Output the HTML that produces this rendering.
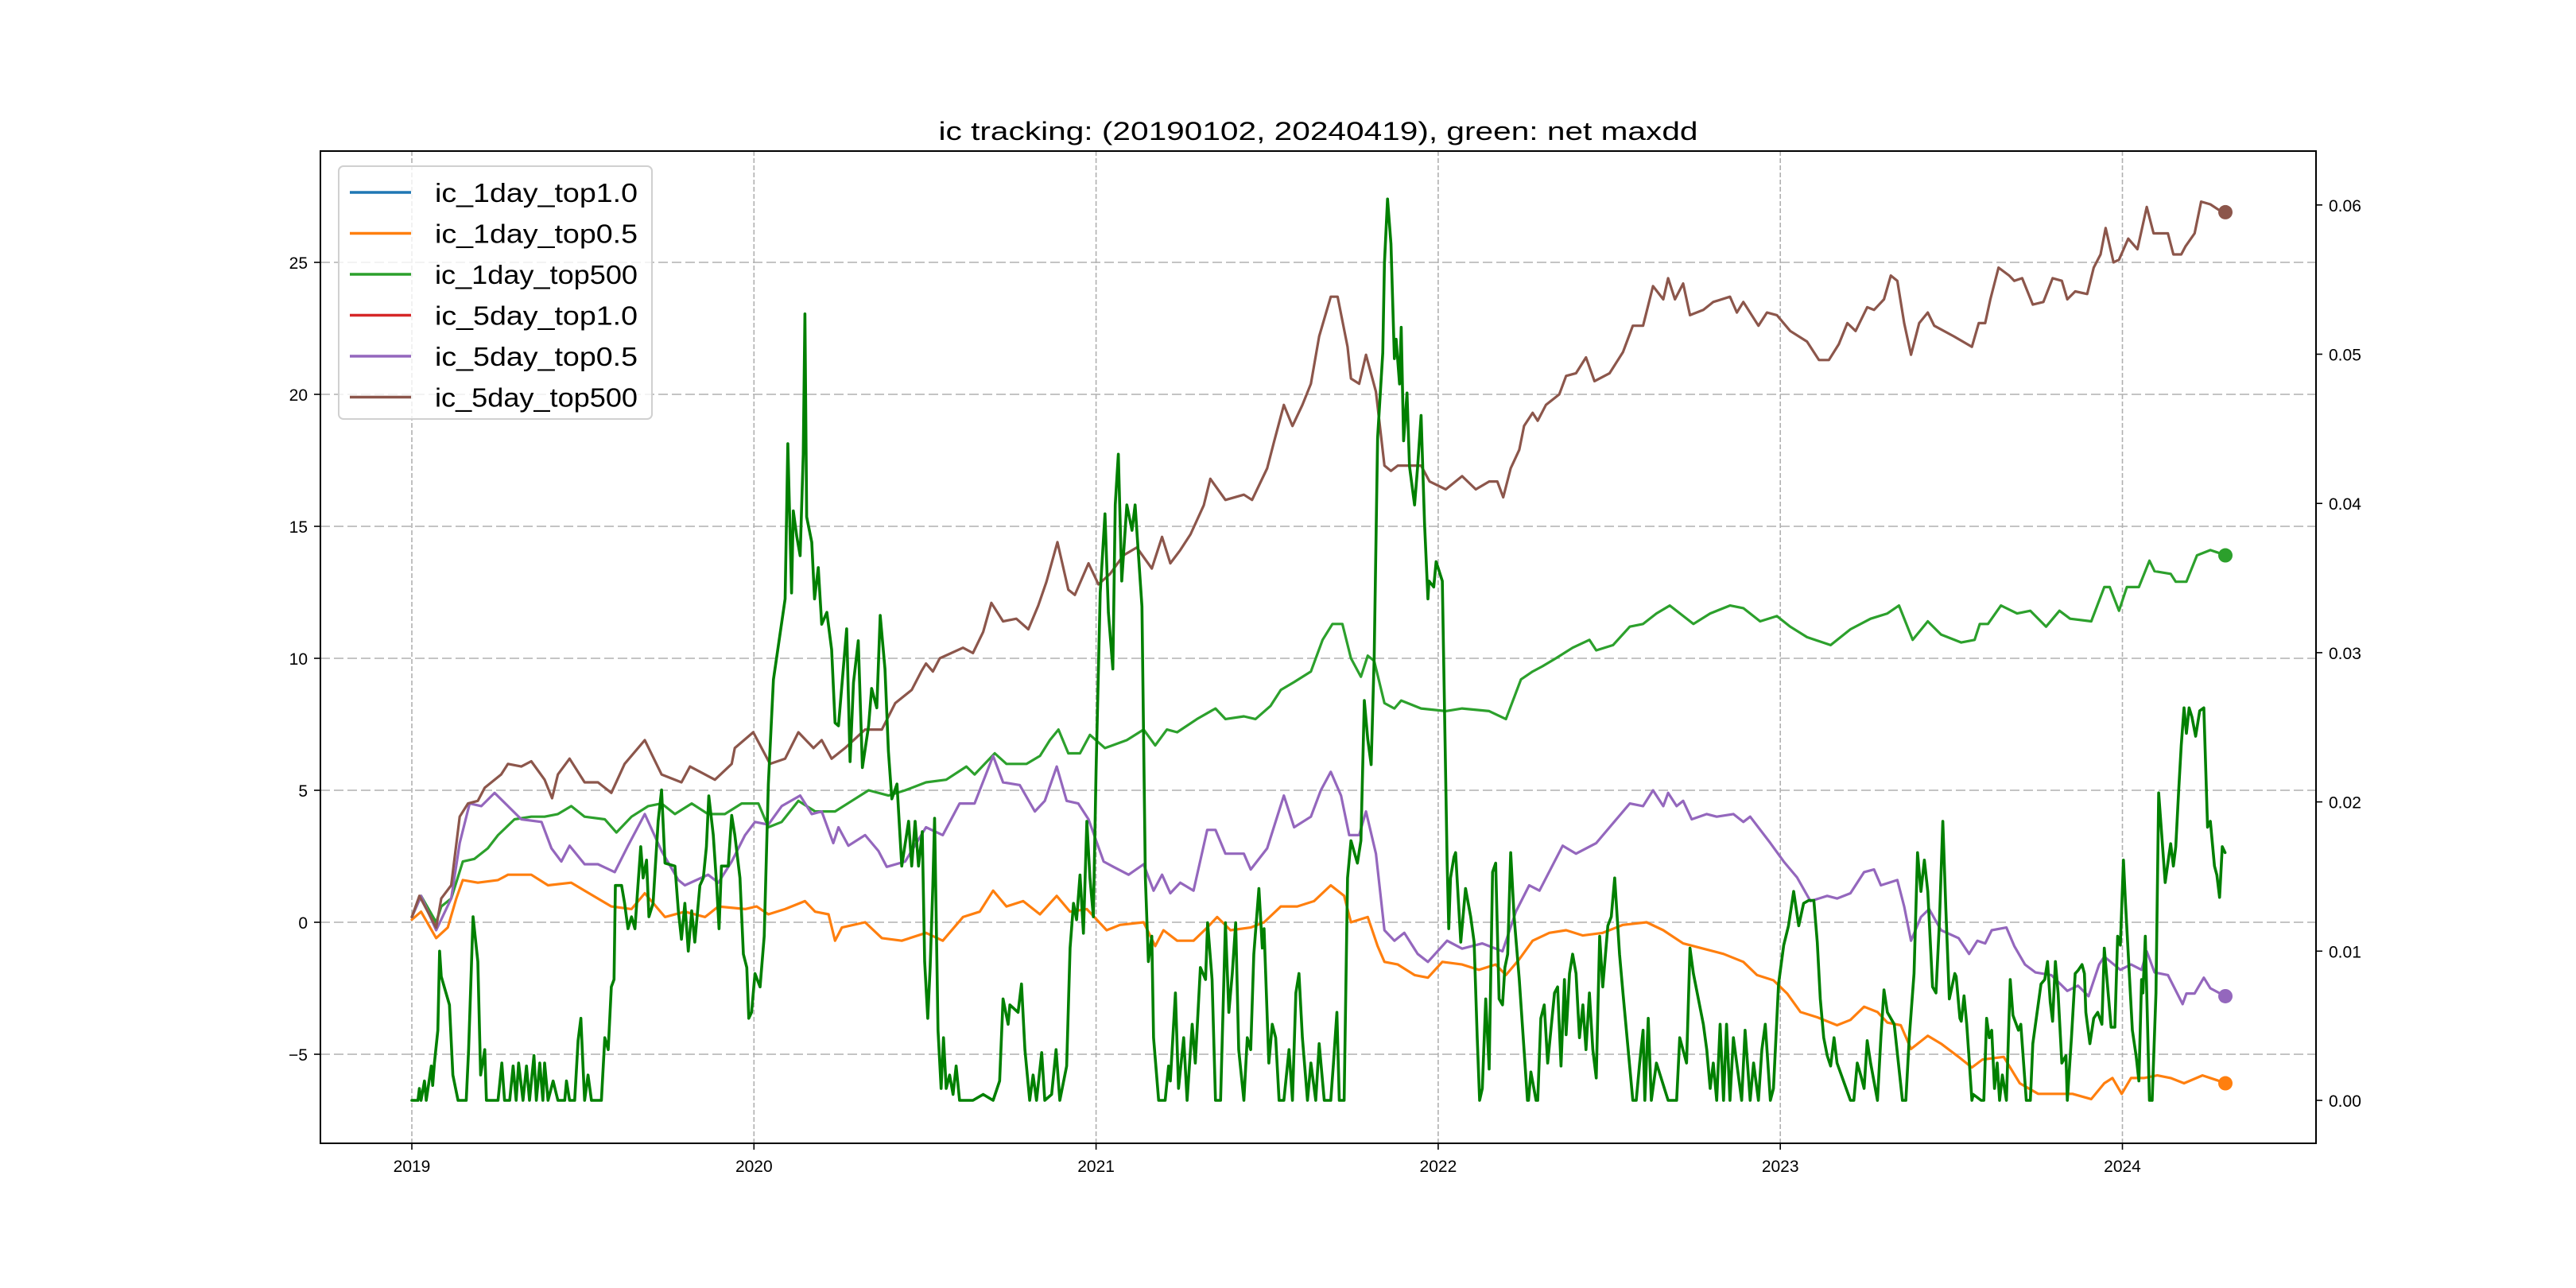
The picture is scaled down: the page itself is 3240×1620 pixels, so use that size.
<!DOCTYPE html>
<html><head><meta charset="utf-8"><style>
html,body{margin:0;padding:0;background:#fff;}
svg{display:block;}
text{font-family:"Liberation Sans","Noto Sans CJK SC",sans-serif;fill:#000;}
</style></head><body>
<svg id="chart" width="3240" height="1620" viewBox="0 0 3240 1620" xmlns="http://www.w3.org/2000/svg">
<rect width="3240" height="1620" fill="#fff"/>
<g id="grid"></g>
<g id="series"></g>
<g id="axes"></g>
<text x="1658" y="176" text-anchor="middle" font-size="32" textLength="955" lengthAdjust="spacingAndGlyphs">ic tracking: (20190102, 20240419), green: net maxdd</text>
<g id="legend"></g>
</svg>
<script>
const xTickYears = [2019, 2020, 2021, 2022, 2023, 2024];
const xTickLabels = ["2019", "2020", "2021", "2022", "2023", "2024"];
const yLeftTicks = [-5, 0, 5, 10, 15, 20, 25];
const yLeftLabels = ["\u22125", "0", "5", "10", "15", "20", "25"];
const yRightTicks = [0, 10, 20, 30, 40, 50, 60];
const yRightLabels = ["0.00", "0.01", "0.02", "0.03", "0.04", "0.05", "0.06"];
const legendLabels = ["ic_1day_top1.0", "ic_1day_top0.5", "ic_1day_top500", "ic_5day_top1.0", "ic_5day_top0.5", "ic_5day_top500"];
const legendColors = ["#1f77b4", "#ff7f0e", "#2ca02c", "#d62728", "#9467bd", "#8c564b"];

const brownDates = [2019.000,2019.022,2019.071,2019.086,2019.115,2019.140,2019.164,2019.193,2019.213,2019.261,2019.281,2019.320,2019.349,2019.388,2019.410,2019.427,2019.461,2019.505,2019.544,2019.583,2019.622,2019.681,2019.730,2019.788,2019.813,2019.886,2019.935,2019.944,2019.998,2020.047,2020.091,2020.130,2020.174,2020.198,2020.227,2020.266,2020.325,2020.374,2020.413,2020.461,2020.489,2020.503,2020.523,2020.543,2020.611,2020.640,2020.670,2020.694,2020.728,2020.767,2020.802,2020.831,2020.855,2020.887,2020.919,2020.938,2020.978,2021.007,2021.041,2021.080,2021.119,2021.163,2021.193,2021.217,2021.246,2021.276,2021.315,2021.334,2021.378,2021.432,2021.456,2021.500,2021.520,2021.549,2021.574,2021.603,2021.628,2021.652,2021.686,2021.706,2021.735,2021.745,2021.769,2021.789,2021.818,2021.843,2021.862,2021.882,2021.911,2021.950,2021.975,2022.022,2022.070,2022.110,2022.149,2022.173,2022.190,2022.212,2022.237,2022.251,2022.276,2022.291,2022.315,2022.354,2022.374,2022.403,2022.432,2022.457,2022.501,2022.540,2022.569,2022.599,2022.628,2022.658,2022.672,2022.692,2022.716,2022.736,2022.775,2022.804,2022.853,2022.873,2022.892,2022.936,2022.961,2022.990,2023.029,2023.078,2023.113,2023.142,2023.171,2023.196,2023.220,2023.254,2023.274,2023.303,2023.323,2023.342,2023.362,2023.382,2023.406,2023.431,2023.450,2023.507,2023.560,2023.580,2023.599,2023.614,2023.638,2023.669,2023.684,2023.707,2023.738,2023.769,2023.796,2023.823,2023.839,2023.862,2023.897,2023.916,2023.936,2023.951,2023.974,2023.990,2024.017,2024.044,2024.071,2024.091,2024.133,2024.149,2024.172,2024.184,2024.211,2024.230,2024.257,2024.280,2024.301];
const brownVals = [0.2,1.0,-0.2,0.9,1.4,4.0,4.5,4.6,5.1,5.6,6.0,5.9,6.1,5.4,4.7,5.6,6.2,5.3,5.3,4.9,6.0,6.9,5.6,5.3,5.9,5.4,6.0,6.6,7.2,6.0,6.2,7.2,6.6,6.9,6.2,6.6,7.3,7.3,8.3,8.8,9.5,9.8,9.5,10.0,10.4,10.2,11.0,12.1,11.4,11.5,11.1,12.0,12.9,14.4,12.6,12.4,13.6,12.8,13.2,13.9,14.2,13.4,14.6,13.6,14.1,14.7,15.8,16.8,16.0,16.2,16.0,17.2,18.2,19.6,18.8,19.6,20.4,22.2,23.7,23.7,21.8,20.6,20.4,21.5,20.1,17.3,17.1,17.3,17.3,17.3,16.7,16.4,16.9,16.4,16.7,16.7,16.1,17.2,17.9,18.8,19.3,19.0,19.6,20.0,20.7,20.8,21.4,20.5,20.8,21.6,22.6,22.6,24.1,23.6,24.4,23.6,24.2,23.0,23.2,23.5,23.7,23.1,23.5,22.6,23.1,23.0,22.4,22.0,21.3,21.3,21.9,22.7,22.4,23.3,23.2,23.6,24.5,24.3,22.7,21.5,22.7,23.1,22.6,22.2,21.8,22.7,22.7,23.6,24.8,24.5,24.3,24.4,23.4,23.5,24.4,24.3,23.6,23.9,23.8,24.8,25.3,26.3,25.0,25.1,25.9,25.5,27.1,26.1,26.1,25.3,25.3,25.6,26.1,27.3,27.2,27.0,26.9];

const greenDates = [2019.000,2019.027,2019.071,2019.086,2019.115,2019.149,2019.183,2019.222,2019.252,2019.300,2019.349,2019.388,2019.427,2019.466,2019.505,2019.564,2019.598,2019.642,2019.691,2019.730,2019.769,2019.818,2019.866,2019.915,2019.964,2020.013,2020.042,2020.081,2020.130,2020.179,2020.237,2020.286,2020.335,2020.393,2020.442,2020.503,2020.562,2020.621,2020.645,2020.704,2020.738,2020.797,2020.836,2020.865,2020.890,2020.919,2020.953,2020.982,2021.026,2021.090,2021.139,2021.173,2021.207,2021.237,2021.295,2021.349,2021.378,2021.432,2021.466,2021.510,2021.540,2021.579,2021.628,2021.662,2021.691,2021.720,2021.745,2021.774,2021.794,2021.813,2021.843,2021.872,2021.892,2021.950,2022.022,2022.070,2022.149,2022.198,2022.242,2022.276,2022.305,2022.344,2022.393,2022.442,2022.462,2022.511,2022.560,2022.599,2022.638,2022.677,2022.746,2022.795,2022.853,2022.892,2022.941,2022.990,2023.029,2023.078,2023.147,2023.205,2023.264,2023.313,2023.347,2023.387,2023.431,2023.470,2023.529,2023.568,2023.583,2023.607,2023.645,2023.692,2023.731,2023.777,2023.816,2023.847,2023.909,2023.947,2023.963,2023.990,2024.013,2024.048,2024.079,2024.094,2024.141,2024.156,2024.187,2024.218,2024.257,2024.280,2024.301];
const greenVals = [0.2,1.0,0.0,0.6,0.9,2.3,2.4,2.8,3.3,3.9,4.0,4.0,4.1,4.4,4.0,3.9,3.4,4.0,4.4,4.5,4.1,4.5,4.1,4.1,4.5,4.5,3.6,3.8,4.6,4.2,4.2,4.6,5.0,4.8,5.0,5.3,5.4,5.9,5.6,6.4,6.0,6.0,6.3,6.9,7.3,6.4,6.4,7.1,6.6,6.9,7.3,6.7,7.3,7.2,7.7,8.1,7.7,7.8,7.7,8.2,8.8,9.1,9.5,10.7,11.3,11.3,10.0,9.3,10.1,9.9,8.3,8.1,8.4,8.1,8.0,8.1,8.0,7.7,9.2,9.5,9.7,10.0,10.4,10.7,10.3,10.5,11.2,11.3,11.7,12.0,11.3,11.7,12.0,11.9,11.4,11.6,11.2,10.8,10.5,11.1,11.5,11.7,12.0,10.7,11.4,10.9,10.6,10.7,11.3,11.3,12.0,11.7,11.8,11.2,11.8,11.5,11.4,12.7,12.7,11.8,12.7,12.7,13.7,13.3,13.2,12.9,12.9,13.9,14.1,14.0,13.9];

const orangeDates = [2019.000,2019.027,2019.071,2019.105,2019.130,2019.149,2019.193,2019.252,2019.281,2019.349,2019.398,2019.466,2019.505,2019.583,2019.642,2019.681,2019.740,2019.798,2019.857,2019.896,2019.974,2020.008,2020.042,2020.091,2020.149,2020.179,2020.218,2020.237,2020.257,2020.325,2020.374,2020.432,2020.503,2020.552,2020.611,2020.660,2020.699,2020.738,2020.787,2020.836,2020.885,2020.924,2020.973,2021.031,2021.070,2021.139,2021.173,2021.197,2021.237,2021.285,2021.325,2021.354,2021.393,2021.452,2021.491,2021.540,2021.588,2021.637,2021.686,2021.725,2021.745,2021.794,2021.823,2021.843,2021.882,2021.931,2021.970,2022.012,2022.070,2022.119,2022.168,2022.198,2022.237,2022.276,2022.325,2022.374,2022.423,2022.481,2022.540,2022.609,2022.658,2022.716,2022.775,2022.834,2022.892,2022.932,2022.980,2023.020,2023.059,2023.108,2023.166,2023.205,2023.245,2023.284,2023.313,2023.352,2023.382,2023.431,2023.470,2023.521,2023.560,2023.591,2023.653,2023.700,2023.754,2023.808,2023.854,2023.909,2023.947,2023.971,2023.998,2024.025,2024.063,2024.102,2024.141,2024.180,2024.234,2024.280,2024.301];
const orangeVals = [0.1,0.4,-0.6,-0.2,0.9,1.6,1.5,1.6,1.8,1.8,1.4,1.5,1.2,0.6,0.5,1.1,0.2,0.4,0.2,0.6,0.5,0.6,0.3,0.5,0.8,0.4,0.3,-0.7,-0.2,0.0,-0.6,-0.7,-0.4,-0.7,0.2,0.4,1.2,0.6,0.8,0.3,1.0,0.4,0.5,-0.3,-0.1,0.0,-0.9,-0.3,-0.7,-0.7,-0.2,0.2,-0.3,-0.2,0.0,0.6,0.6,0.8,1.4,1.0,0.0,0.2,-0.9,-1.5,-1.6,-2.0,-2.1,-1.5,-1.6,-1.8,-1.6,-2.0,-1.4,-0.7,-0.4,-0.3,-0.5,-0.4,-0.1,0.0,-0.3,-0.8,-1.0,-1.2,-1.5,-2.0,-2.2,-2.7,-3.4,-3.6,-3.9,-3.7,-3.2,-3.4,-3.8,-3.9,-4.8,-4.3,-4.6,-5.1,-5.5,-5.2,-5.1,-6.1,-6.5,-6.5,-6.5,-6.7,-6.1,-5.9,-6.5,-5.9,-5.9,-5.8,-5.9,-6.1,-5.8,-6.0,-6.1];

const purpleDates = [2019.000,2019.027,2019.071,2019.115,2019.140,2019.169,2019.203,2019.242,2019.281,2019.320,2019.379,2019.408,2019.437,2019.461,2019.505,2019.544,2019.593,2019.632,2019.681,2019.730,2019.779,2019.798,2019.866,2019.896,2019.935,2019.974,2020.003,2020.042,2020.081,2020.135,2020.169,2020.198,2020.232,2020.247,2020.276,2020.325,2020.364,2020.388,2020.442,2020.503,2020.552,2020.601,2020.645,2020.699,2020.728,2020.777,2020.821,2020.850,2020.885,2020.914,2020.948,2020.978,2021.022,2021.051,2021.095,2021.139,2021.168,2021.193,2021.217,2021.246,2021.285,2021.325,2021.349,2021.378,2021.432,2021.452,2021.500,2021.549,2021.579,2021.628,2021.657,2021.686,2021.716,2021.740,2021.769,2021.789,2021.818,2021.843,2021.872,2021.901,2021.940,2021.970,2022.026,2022.070,2022.129,2022.188,2022.227,2022.266,2022.296,2022.364,2022.403,2022.462,2022.501,2022.560,2022.599,2022.628,2022.658,2022.672,2022.697,2022.716,2022.741,2022.785,2022.814,2022.863,2022.892,2022.912,2022.971,2023.010,2023.049,2023.088,2023.137,2023.166,2023.205,2023.245,2023.274,2023.294,2023.342,2023.362,2023.382,2023.411,2023.435,2023.470,2023.521,2023.552,2023.576,2023.599,2023.618,2023.661,2023.684,2023.715,2023.746,2023.792,2023.839,2023.870,2023.901,2023.932,2023.947,2023.994,2024.025,2024.056,2024.071,2024.094,2024.133,2024.176,2024.187,2024.211,2024.238,2024.257,2024.301];
const purpleVals = [0.2,1.0,-0.3,0.9,3.0,4.5,4.4,4.9,4.4,3.9,3.8,2.8,2.3,2.9,2.2,2.2,1.9,2.9,4.1,2.7,1.6,1.4,1.8,1.5,2.3,3.3,3.8,3.7,4.4,4.8,4.1,4.2,3.0,3.6,2.9,3.3,2.7,2.1,2.3,3.6,3.3,4.5,4.5,6.3,5.3,5.2,4.2,4.6,5.9,4.6,4.5,3.9,2.3,2.1,1.8,2.2,1.2,1.8,1.1,1.5,1.2,3.5,3.5,2.6,2.6,2.0,2.8,4.8,3.6,4.0,5.0,5.7,4.8,3.3,3.3,4.2,2.6,-0.3,-0.7,-0.4,-1.2,-1.5,-0.7,-1.0,-0.8,-1.1,0.4,1.4,1.2,2.9,2.6,3.0,3.6,4.5,4.4,5.0,4.4,4.9,4.4,4.6,3.9,4.1,4.0,4.1,3.8,4.0,3.0,2.3,1.7,0.8,1.0,0.9,1.1,1.9,2.0,1.4,1.6,0.6,-0.7,0.2,0.5,-0.3,-0.6,-1.2,-0.7,-0.8,-0.3,-0.2,-0.9,-1.6,-1.9,-2.0,-2.6,-2.4,-2.8,-1.6,-1.3,-1.8,-1.6,-1.8,-1.1,-1.9,-2.0,-3.1,-2.7,-2.7,-2.1,-2.5,-2.8];

const maxddDates = [2019.000,2019.018,2019.022,2019.027,2019.037,2019.042,2019.057,2019.061,2019.066,2019.076,2019.081,2019.086,2019.110,2019.120,2019.135,2019.159,2019.166,2019.179,2019.193,2019.201,2019.213,2019.218,2019.252,2019.263,2019.271,2019.286,2019.296,2019.305,2019.312,2019.325,2019.335,2019.344,2019.357,2019.364,2019.374,2019.383,2019.388,2019.398,2019.413,2019.427,2019.447,2019.452,2019.461,2019.476,2019.486,2019.494,2019.500,2019.505,2019.515,2019.525,2019.554,2019.564,2019.574,2019.583,2019.591,2019.595,2019.613,2019.622,2019.632,2019.642,2019.652,2019.661,2019.669,2019.676,2019.686,2019.693,2019.705,2019.720,2019.730,2019.740,2019.769,2019.779,2019.788,2019.798,2019.808,2019.818,2019.827,2019.842,2019.852,2019.861,2019.868,2019.881,2019.891,2019.898,2019.905,2019.925,2019.935,2019.944,2019.959,2019.969,2019.979,2019.985,2019.993,2020.003,2020.018,2020.030,2020.042,2020.057,2020.091,2020.099,2020.110,2020.115,2020.125,2020.135,2020.144,2020.149,2020.154,2020.169,2020.177,2020.188,2020.198,2020.213,2020.227,2020.237,2020.247,2020.271,2020.281,2020.291,2020.305,2020.317,2020.335,2020.344,2020.359,2020.369,2020.383,2020.393,2020.403,2020.418,2020.432,2020.452,2020.461,2020.471,2020.481,2020.492,2020.499,2020.508,2020.515,2020.523,2020.528,2020.538,2020.547,2020.554,2020.562,2020.572,2020.582,2020.591,2020.601,2020.640,2020.670,2020.699,2020.718,2020.728,2020.743,2020.748,2020.772,2020.782,2020.792,2020.806,2020.816,2020.826,2020.841,2020.850,2020.870,2020.883,2020.894,2020.914,2020.924,2020.934,2020.943,2020.953,2020.963,2020.973,2020.982,2020.992,2021.000,2021.012,2021.026,2021.036,2021.049,2021.056,2021.065,2021.075,2021.090,2021.105,2021.114,2021.134,2021.144,2021.153,2021.163,2021.168,2021.183,2021.202,2021.212,2021.217,2021.232,2021.241,2021.256,2021.266,2021.281,2021.290,2021.305,2021.320,2021.326,2021.339,2021.349,2021.364,2021.378,2021.388,2021.398,2021.408,2021.417,2021.432,2021.442,2021.452,2021.461,2021.476,2021.486,2021.491,2021.505,2021.515,2021.525,2021.535,2021.549,2021.564,2021.574,2021.584,2021.593,2021.603,2021.618,2021.628,2021.642,2021.652,2021.667,2021.686,2021.694,2021.704,2021.711,2021.725,2021.735,2021.745,2021.764,2021.774,2021.784,2021.794,2021.804,2021.813,2021.823,2021.838,2021.843,2021.852,2021.862,2021.872,2021.877,2021.887,2021.892,2021.899,2021.909,2021.916,2021.931,2021.940,2021.950,2021.960,2021.970,2021.973,2021.987,2021.994,2022.012,2022.026,2022.031,2022.036,2022.046,2022.051,2022.066,2022.080,2022.095,2022.105,2022.114,2022.121,2022.129,2022.139,2022.149,2022.159,2022.168,2022.178,2022.188,2022.195,2022.203,2022.212,2022.222,2022.237,2022.261,2022.264,2022.271,2022.286,2022.291,2022.300,2022.310,2022.320,2022.340,2022.349,2022.359,2022.369,2022.374,2022.384,2022.393,2022.403,2022.413,2022.423,2022.432,2022.442,2022.452,2022.462,2022.472,2022.481,2022.496,2022.506,2022.516,2022.530,2022.540,2022.569,2022.579,2022.589,2022.599,2022.604,2022.614,2022.623,2022.638,2022.672,2022.697,2022.706,2022.726,2022.736,2022.746,2022.775,2022.785,2022.795,2022.804,2022.814,2022.824,2022.834,2022.843,2022.853,2022.863,2022.887,2022.897,2022.912,2022.922,2022.936,2022.946,2022.956,2022.971,2022.980,2022.995,2023.010,2023.024,2023.039,2023.054,2023.068,2023.083,2023.098,2023.108,2023.117,2023.127,2023.137,2023.147,2023.157,2023.166,2023.205,2023.215,2023.225,2023.235,2023.245,2023.254,2023.264,2023.284,2023.294,2023.303,2023.313,2023.333,2023.357,2023.367,2023.377,2023.391,2023.401,2023.411,2023.421,2023.431,2023.445,2023.455,2023.465,2023.475,2023.484,2023.494,2023.510,2023.514,2023.525,2023.529,2023.537,2023.545,2023.560,2023.564,2023.587,2023.595,2023.603,2023.611,2023.618,2023.626,2023.634,2023.641,2023.649,2023.661,2023.672,2023.680,2023.696,2023.703,2023.719,2023.731,2023.738,2023.762,2023.773,2023.781,2023.789,2023.796,2023.804,2023.812,2023.823,2023.835,2023.839,2023.851,2023.862,2023.870,2023.882,2023.889,2023.893,2023.905,2023.916,2023.928,2023.940,2023.947,2023.955,2023.967,2023.978,2023.986,2023.994,2024.003,2024.009,2024.029,2024.040,2024.048,2024.056,2024.060,2024.067,2024.079,2024.087,2024.098,2024.106,2024.125,2024.137,2024.141,2024.149,2024.156,2024.164,2024.172,2024.180,2024.187,2024.195,2024.203,2024.214,2024.226,2024.238,2024.249,2024.257,2024.269,2024.276,2024.284,2024.292,2024.300];
const maxddPermille = [0,0,0.8,0,1.3,0,2.3,1.0,2.5,4.7,10.0,8.3,6.4,1.7,0,0,3.4,12.3,9.3,1.7,3.4,0,0,2.5,0,0,2.3,0,2.5,0,2.3,0,3.0,0,2.5,0,2.5,0,1.3,0,0,1.3,0,0,4.0,5.5,2.5,0,1.7,0,0,4.2,3.4,7.6,8.1,14.4,14.4,13.2,11.5,12.3,11.5,14.4,17.0,14.9,16.1,12.3,13.2,18.7,20.8,15.9,15.7,12.7,10.8,13.2,10.0,12.7,10.6,14.4,14.9,17.0,20.4,17.8,14.4,11.5,15.7,15.7,19.1,17.8,14.9,9.8,8.9,5.5,5.9,8.5,7.6,11.0,21.2,28.2,33.6,44.0,34.0,39.5,37.8,36.5,43.3,52.7,39.1,37.4,33.6,35.7,31.9,32.7,30.2,25.3,25.1,31.6,22.7,28.0,30.8,22.3,25.1,27.6,26.3,32.5,28.9,23.4,20.2,21.2,15.7,18.7,15.7,18.7,15.7,18.0,9.3,5.5,8.9,14.4,18.9,4.7,0.8,4.2,0.8,1.7,0.4,2.3,0,0,0.4,0,1.3,6.8,5.1,6.4,5.9,7.8,3.4,0,1.7,0,3.2,0,0.4,3.4,0,2.3,10.2,13.2,12.1,15.1,11.2,18.7,14.9,12.3,22.1,34.0,39.3,32.7,28.9,39.9,43.3,34.8,39.9,38.2,39.9,33.1,14.9,9.3,11.0,4.2,0,0,2.3,1.3,7.2,0.8,4.2,0,5.1,2.5,8.9,8.1,11.9,8.1,0,0,11.9,5.9,8.5,11.9,3.4,0,4.2,3.4,9.8,14.2,10.2,11.5,2.5,5.1,4.2,0,0,3.4,0,7.2,8.5,4.2,0,2.5,0,3.8,0,0,2.5,5.9,0,0,14.9,17.4,15.9,17.4,26.8,24.2,22.5,29.7,44.4,50.1,56.1,60.4,57.4,49.7,51.0,48.0,51.8,44.2,47.4,42.5,39.9,42.5,45.9,38.7,33.6,34.8,34.4,36.1,34.8,16.1,11.5,14.9,16.3,16.6,10.6,14.2,12.3,10.6,4.2,0,0.8,6.8,2.1,15.3,15.9,6.8,6.4,8.9,9.8,16.6,12.3,8.1,0,0,1.9,0,0,5.5,6.4,2.5,7.2,7.6,2.3,8.1,4.4,8.5,9.8,8.5,4.2,6.4,3.4,7.2,3.4,1.5,11.0,7.6,11.7,12.3,14.9,9.8,7.2,0,0,2.5,4.7,0,5.5,0,2.5,0,0,4.2,2.5,10.2,8.5,5.1,3.4,0.8,2.5,0,5.1,0,5.1,0,4.2,0,4.7,0,2.5,0,3.4,5.1,0,0.8,7.8,10.4,11.7,14.0,11.7,13.2,13.4,13.4,10.6,6.8,4.2,3.0,2.3,4.2,2.5,0,0,2.5,1.7,0.8,4.0,2.5,0,4.2,7.4,5.9,5.1,0,0,4.2,8.5,16.6,14.0,16.1,14.0,7.6,7.2,11.9,18.7,12.7,6.8,8.5,8.3,5.5,5.3,7.0,5.1,0,0.4,0,0,5.5,4.2,4.7,0.8,2.5,0,1.7,0,8.1,5.7,4.7,5.1,0,0,3.8,7.8,8.1,9.3,6.6,5.3,9.3,7.2,2.5,3.0,0,4.2,8.5,8.7,9.1,8.5,5.9,3.8,5.5,5.9,5.1,10.2,8.1,4.9,4.9,11.0,10.4,16.1,13.2,4.7,3.0,1.3,8.1,7.2,11.0,0,0,7.2,20.6,14.6,16.6,17.2,15.7,17.0,20.6,23.8,26.3,24.6,26.3,25.7,24.4,26.1,26.3,18.3,18.7,15.7,15.1,13.6,17.0,16.6,13.6];

const NS = "http://www.w3.org/2000/svg";
const plot = {left: 403, right: 2913, top: 190, bottom: 1438};
function xScale(t) { return 518 + (t - 2019) * 430.3; }
function yLeft(v) { return 1160 - v * 33.2; }
function yRight(p) { return 1384 - p * 18.77; }
function mk(tag, attrs, parent) {
  const el = document.createElementNS(NS, tag);
  for (const k in attrs) el.setAttribute(k, attrs[k]);
  parent.appendChild(el);
  return el;
}
const grid = document.getElementById("grid");
const axes = document.getElementById("axes");
const series = document.getElementById("series");
const legend = document.getElementById("legend");

xTickYears.forEach((yr, i) => {
  const x = xScale(yr);
  const g = mk("line", {x1: x, x2: x, y1: plot.top, y2: plot.bottom, stroke: "#b0b0b0", "stroke-width": 1.6, "stroke-dasharray": "6,3"}, grid);
  
  
  const tk = mk("line", {x1: x, x2: x, y1: plot.bottom, y2: plot.bottom + 8, stroke: "#000", "stroke-width": 1.6}, axes);
  
  
  const lb = mk("text", {x: x, y: plot.bottom + 36, "text-anchor": "middle", "font-size": 21}, axes);
  lb.textContent = xTickLabels[i];
  
  
});
yLeftTicks.forEach((v, i) => {
  const y = yLeft(v);
  const g = mk("line", {x1: plot.left, x2: plot.right, y1: y, y2: y, stroke: "#b0b0b0", "stroke-width": 1.6, "stroke-dasharray": "12,5"}, grid);
  
  
  const tk = mk("line", {x1: plot.left - 8, x2: plot.left, y1: y, y2: y, stroke: "#000", "stroke-width": 1.6}, axes);
  
  
  const lb = mk("text", {x: plot.left - 16, y: y + 8, "text-anchor": "end", "font-size": 21}, axes);
  lb.textContent = yLeftLabels[i];
  
  
});
yRightTicks.forEach((p, i) => {
  const y = yRight(p);
  const tk = mk("line", {x1: plot.right, x2: plot.right + 8, y1: y, y2: y, stroke: "#000", "stroke-width": 1.6}, axes);
  
  
  const lb = mk("text", {x: plot.right + 16, y: y + 8, "text-anchor": "start", "font-size": 21}, axes);
  lb.textContent = yRightLabels[i];
  
  
});
const frame = mk("rect", {x: plot.left, y: plot.top, width: plot.right - plot.left, height: plot.bottom - plot.top, fill: "none", stroke: "#000", "stroke-width": 2}, axes);



function drawLine(dates, vals, yf, color, width, name, dot) {
  const pts = dates.map((t, i) => xScale(t).toFixed(1) + "," + yf(vals[i]).toFixed(1)).join(" ");
  const pl = mk("polyline", {points: pts, fill: "none", stroke: color, "stroke-width": width, "stroke-linejoin": "round", "stroke-linecap": "round"}, series);
  
  
  if (dot) {
    const n = dates.length - 1;
    const c = mk("circle", {cx: xScale(dates[n]), cy: yf(vals[n]), r: 9, fill: color}, series);
    
    
  }
}
drawLine(orangeDates, orangeVals, yLeft, "#ff7f0e", 3.2, "ic-1day-top0.5-line", true);
drawLine(greenDates, greenVals, yLeft, "#2ca02c", 3.2, "ic-1day-top500-line", true);
drawLine(purpleDates, purpleVals, yLeft, "#9467bd", 3.2, "ic-5day-top0.5-line", true);
drawLine(brownDates, brownVals, yLeft, "#8c564b", 3.2, "ic-5day-top500-line", true);
drawLine(maxddDates, maxddPermille, yRight, "#008000", 3.6, "net-maxdd-line", false);

const lbox = mk("rect", {x: 426, y: 209, width: 394, height: 318, rx: 6, fill: "#fff", "fill-opacity": 0.8, stroke: "#d0d0d0", "stroke-width": 2}, legend);


legendLabels.forEach((lab, i) => {
  const y = 242 + i * 51.5;
  const ln = mk("line", {x1: 440, x2: 517, y1: y, y2: y, stroke: legendColors[i], "stroke-width": 3.4}, legend);
  
  
  const tx = mk("text", {x: 547, y: y + 12, "font-size": 33, textLength: 255, lengthAdjust: "spacingAndGlyphs"}, legend);
  tx.textContent = lab;
  
  
});
</script>
</body></html>
